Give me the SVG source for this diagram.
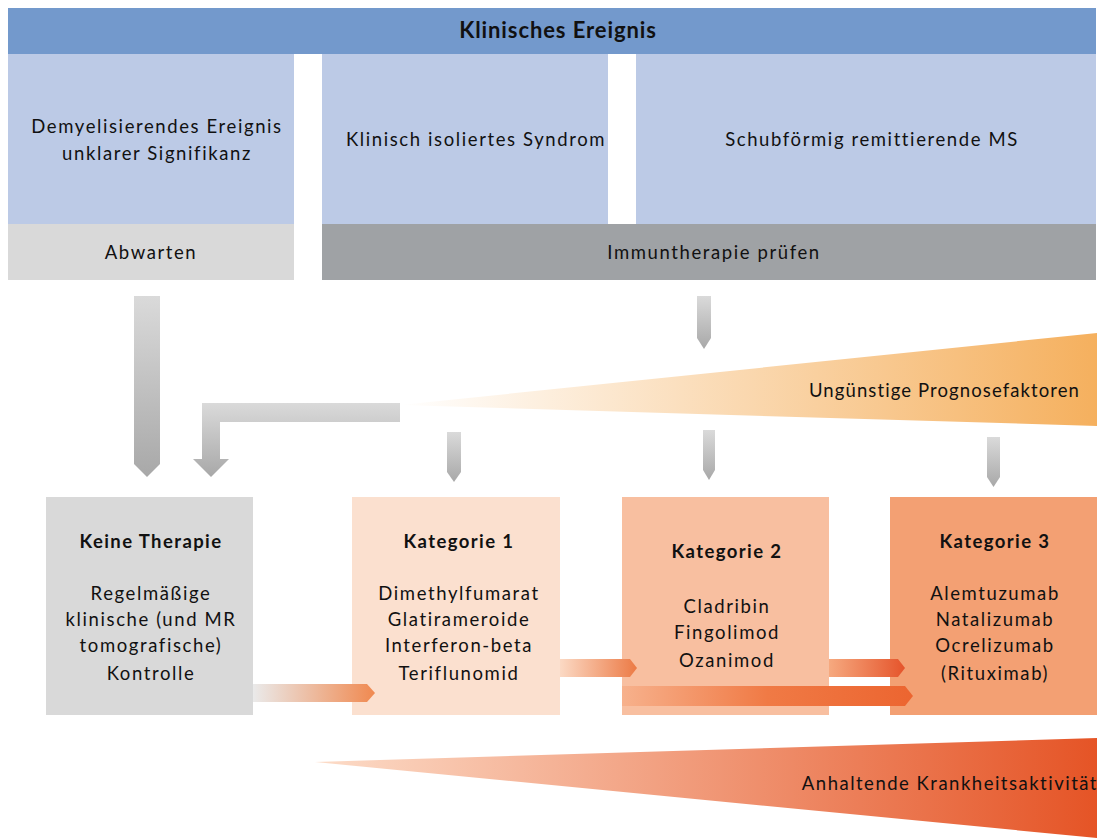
<svg xmlns="http://www.w3.org/2000/svg" width="1102" height="838" viewBox="0 0 1102 838">
<style>
text{font-family:Lato,"Open Sans","Liberation Sans",sans-serif;font-size:18.5px;fill:#111;letter-spacing:1.6px}
.b{font-weight:bold;letter-spacing:1.4px}
.m{text-anchor:middle}
.e{text-anchor:end}
</style>
<defs>
<linearGradient id="gv" x1="0" y1="0" x2="0" y2="1"><stop offset="0" stop-color="#DADADA"/><stop offset="1" stop-color="#A8A8A8"/></linearGradient>
<linearGradient id="gy" x1="0" y1="0" x2="1" y2="0"><stop offset="0" stop-color="#FFFFFF"/><stop offset="1" stop-color="#F5B05E"/></linearGradient>
<linearGradient id="go" x1="0" y1="0" x2="1" y2="0"><stop offset="0" stop-color="#FCDCC8"/><stop offset="1" stop-color="#E55426"/></linearGradient>
<linearGradient id="ga1" x1="0" y1="0" x2="1" y2="0"><stop offset="0" stop-color="#EAEAEA"/><stop offset="1" stop-color="#F08950"/></linearGradient>
<linearGradient id="ga2" x1="0" y1="0" x2="1" y2="0"><stop offset="0" stop-color="#FBD9C4"/><stop offset="1" stop-color="#EC7A45"/></linearGradient>
<linearGradient id="ga3" x1="0" y1="0" x2="1" y2="0"><stop offset="0" stop-color="#F6A97F"/><stop offset="1" stop-color="#E5542B"/></linearGradient>
<linearGradient id="ga4" x1="0" y1="0" x2="1" y2="0"><stop offset="0" stop-color="#F7B18C"/><stop offset="0.5" stop-color="#F07A45"/><stop offset="1" stop-color="#EC6530"/></linearGradient>
</defs>

<g id="header">
<rect x="8" y="8" width="1088" height="46" fill="#7399CC"/>
<text class="b m" x="558" y="38" style="font-size:22px;letter-spacing:0.9px">Klinisches Ereignis</text>
</g>
<g id="demyel">
<rect x="8" y="54" width="286" height="170" fill="#BCCAE6"/>
<text class="m" x="157" y="133">Demyelisierendes Ereignis</text>
<text class="m" x="157" y="160">unklarer Signifikanz</text>
</g>
<g id="cis">
<rect x="322" y="54" width="286" height="170" fill="#BCCAE6"/>
<text class="m" x="476" y="146">Klinisch isoliertes Syndrom</text>
</g>
<g id="rrms">
<rect x="636" y="54" width="460" height="170" fill="#BCCAE6"/>
<text class="m" x="872" y="146">Schubförmig remittierende MS</text>
</g>
<g id="abwarten">
<rect x="8" y="224" width="286" height="56" fill="#D9D9D9"/>
<text class="m" x="151" y="259">Abwarten</text>
</g>
<g id="immun">
<rect x="322" y="224" width="774" height="56" fill="#9FA2A5"/>
<text class="m" x="714" y="259">Immuntherapie prüfen</text>
</g>

<g id="prognose">
<polygon points="400,405 1097,333 1097,426" fill="url(#gy)"/>
<text class="e" x="1080" y="397" style="letter-spacing:1.1px">Ungünstige Prognosefaktoren</text>
</g>
<g id="aktivitaet">
<polygon points="315,762 1097,738 1097,838" fill="url(#go)"/>
<text class="e" x="1098" y="790" style="letter-spacing:1.5px">Anhaltende Krankheitsaktivität</text>
</g>

<g id="connectors">
<polygon points="134,296 160,296 160,464 147,477 134,464" fill="url(#gv)"/>
<path d="M400,403 L400,422 L220,422 L220,459 L229,459 L211,477 L193,459 L202,459 L202,403 Z" fill="url(#gv)"/>
<polygon points="697,296 711,296 711,338 704,349 697,338" fill="url(#gv)"/>
<polygon points="447,432 461,432 461,472 454,482 447,472" fill="url(#gv)"/>
<polygon points="703,430 715,430 715,470 709,480 703,470" fill="url(#gv)"/>
<polygon points="987,437 1000,437 1000,477 993.5,487 987,477" fill="url(#gv)"/>
</g>

<g id="keine">
<rect x="46" y="497" width="207" height="218" fill="#D9D9D9"/>
<text class="b m" x="151" y="548">Keine Therapie</text>
<text class="m" x="151" y="600">Regelmäßige</text>
<text class="m" x="151" y="626">klinische (und MR</text>
<text class="m" x="151" y="652">tomografische)</text>
<text class="m" x="151" y="680">Kontrolle</text>
</g>
<g id="kat1">
<rect x="352" y="497" width="208" height="218" fill="#FBE0CF"/>
<text class="b m" x="459" y="548">Kategorie 1</text>
<text class="m" x="459" y="600">Dimethylfumarat</text>
<text class="m" x="459" y="626">Glatirameroide</text>
<text class="m" x="459" y="652">Interferon-beta</text>
<text class="m" x="459" y="680">Teriflunomid</text>
</g>
<g id="kat2">
<rect x="622" y="497" width="207" height="218" fill="#F8BFA0"/>
<text class="b m" x="727" y="558">Kategorie 2</text>
<text class="m" x="727" y="613">Cladribin</text>
<text class="m" x="727" y="639">Fingolimod</text>
<text class="m" x="727" y="667">Ozanimod</text>
</g>
<g id="kat3">
<rect x="890" y="497" width="207" height="218" fill="#F3A073"/>
<text class="b m" x="995" y="548">Kategorie 3</text>
<text class="m" x="995" y="600">Alemtuzumab</text>
<text class="m" x="995" y="626">Natalizumab</text>
<text class="m" x="995" y="652">Ocrelizumab</text>
<text class="m" x="995" y="680">(Rituximab)</text>
</g>
<g id="connectors-over">
<polygon points="253,684 367,684 375,693 367,702 253,702" fill="url(#ga1)"/>
<polygon points="560,659 630,659 637,668 630,677 560,677" fill="url(#ga2)"/>
<polygon points="829,659 898,659 905,668 898,677 829,677" fill="url(#ga3)"/>
<polygon points="622,686 905,686 913,696 905,706 622,706" fill="url(#ga4)"/>
</g>
</svg>
